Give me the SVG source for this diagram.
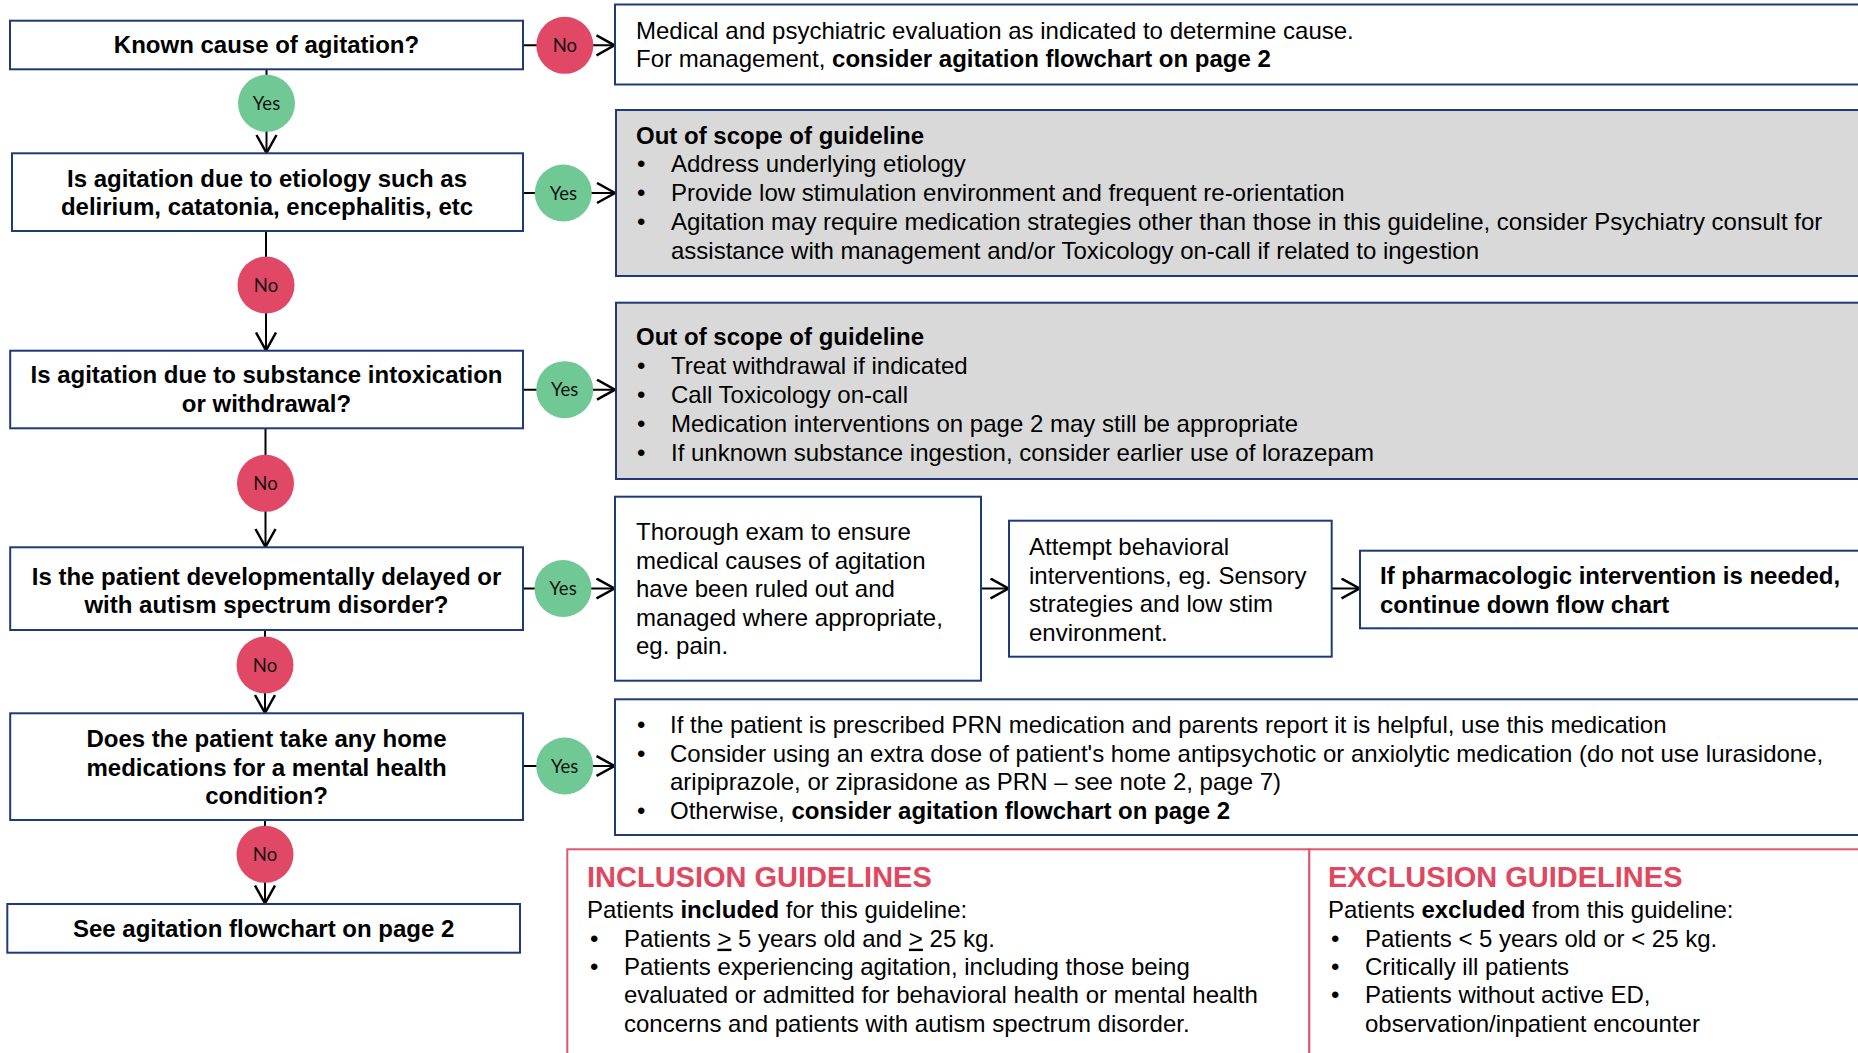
<svg xmlns="http://www.w3.org/2000/svg" width="1858" height="1053" viewBox="0 0 1858 1053">
<style>
.box{fill:#ffffff;stroke:#1f3a78;stroke-width:2}
.gbox{fill:#d9d9d9;stroke:#1f3a78;stroke-width:2}
.rbox{fill:#ffffff;stroke:#e05670;stroke-width:2}
.q{font-family:"Liberation Sans",Arial,sans-serif;font-size:24px;font-weight:bold;fill:#000;text-anchor:middle}
.t{font-family:"Liberation Sans",Arial,sans-serif;font-size:24px;fill:#000}
.b{font-weight:bold}
.h{font-family:"Liberation Sans",Arial,sans-serif;font-size:29px;font-weight:bold;fill:#e0485f}
.lbl{font-family:Lato,"Open Sans",sans-serif;font-size:18.5px;fill:#111;text-anchor:middle}
.no{fill:#e04866}
.yes{fill:#70c994}
.c{stroke:#000;stroke-width:2;fill:none;marker-end:url(#ah)}
</style>
<defs>
<marker id="ah" markerUnits="userSpaceOnUse" markerWidth="22" markerHeight="24" refX="19" refY="11" orient="auto">
<path d="M1,1 L19,11 L1,21" fill="none" stroke="#000" stroke-width="2.5"/>
</marker>
</defs>
<rect width="1858" height="1053" fill="#ffffff"/>

<g id="connectors">
<line class="c" x1="266.5" y1="69.5" x2="266.5" y2="153"/>
<line class="c" x1="266" y1="231" x2="266" y2="350.5"/>
<line class="c" x1="265.5" y1="428.5" x2="265.5" y2="547"/>
<line class="c" x1="265" y1="630" x2="265" y2="713"/>
<line class="c" x1="265" y1="820" x2="265" y2="903.5"/>
<line class="c" x1="523" y1="45.3" x2="614.5" y2="45.3"/>
<line class="c" x1="523" y1="193" x2="615" y2="193"/>
<line class="c" x1="523" y1="389.7" x2="615" y2="389.7"/>
<line class="c" x1="523" y1="588.5" x2="614.5" y2="588.5"/>
<line class="c" x1="523" y1="766" x2="614.5" y2="766"/>
<line class="c" x1="981" y1="588.5" x2="1008.5" y2="588.5"/>
<line class="c" x1="1331.7" y1="588.5" x2="1359.5" y2="588.5"/>
</g>

<g id="lbl-yes1"><circle class="yes" cx="266.5" cy="103.3" r="28.5"/><text class="lbl" x="266.5" y="110">Yes</text></g>
<g id="lbl-no2"><circle class="no" cx="266" cy="285" r="28.5"/><text class="lbl" x="266" y="291.7">No</text></g>
<g id="lbl-no3"><circle class="no" cx="265.5" cy="483.3" r="28.5"/><text class="lbl" x="265.5" y="490">No</text></g>
<g id="lbl-no4"><circle class="no" cx="265" cy="665" r="28.5"/><text class="lbl" x="265" y="671.7">No</text></g>
<g id="lbl-no5"><circle class="no" cx="265" cy="854.3" r="28.5"/><text class="lbl" x="265" y="861">No</text></g>
<g id="lbl-no1"><circle class="no" cx="564.8" cy="45.3" r="28.5"/><text class="lbl" x="564.8" y="52">No</text></g>
<g id="lbl-yes2"><circle class="yes" cx="563.3" cy="193" r="28.5"/><text class="lbl" x="563.3" y="199.7">Yes</text></g>
<g id="lbl-yes3"><circle class="yes" cx="564.7" cy="389.7" r="28.5"/><text class="lbl" x="564.7" y="396.4">Yes</text></g>
<g id="lbl-yes4"><circle class="yes" cx="563" cy="588.5" r="28.5"/><text class="lbl" x="563" y="595.2">Yes</text></g>
<g id="lbl-yes5"><circle class="yes" cx="564.7" cy="766" r="28.5"/><text class="lbl" x="564.7" y="772.7">Yes</text></g>

<g id="q1"><rect class="box" x="10" y="20.7" width="513" height="48.6"/><text class="q" x="266.5" y="53.3">Known cause of agitation?</text></g>
<g id="q2"><rect class="box" x="12" y="153.3" width="511" height="77.7"/><text class="q" x="267" y="186.7">Is agitation due to etiology such as</text><text class="q" x="267" y="215">delirium, catatonia, encephalitis, etc</text></g>
<g id="q3"><rect class="box" x="10.2" y="350.7" width="512.8" height="77.6"/><text class="q" x="266.5" y="383.3">Is agitation due to substance intoxication</text><text class="q" x="266.5" y="411.7">or withdrawal?</text></g>
<g id="q4"><rect class="box" x="10.2" y="547.3" width="512.8" height="82.7"/><text class="q" x="266.5" y="585">Is the patient developmentally delayed or</text><text class="q" x="266.5" y="613.3">with autism spectrum disorder?</text></g>
<g id="q5"><rect class="box" x="10.2" y="713.3" width="512.8" height="106.7"/><text class="q" x="266.5" y="746.7">Does the patient take any home</text><text class="q" x="266.5" y="775.5">medications for a mental health</text><text class="q" x="266.5" y="804.3">condition?</text></g>
<g id="end"><rect class="box" x="7.3" y="904" width="512.7" height="48.7"/><text class="q" x="263.7" y="937.3">See agitation flowchart on page 2</text></g>

<g id="r1"><rect class="box" x="615" y="4.5" width="1260" height="80"/>
<text class="t" x="636" y="38.5">Medical and psychiatric evaluation as indicated to determine cause.</text>
<text class="t" x="636" y="67">For management, <tspan class="b">consider agitation flowchart on page 2</tspan></text></g>

<g id="r2"><rect class="gbox" x="616" y="110" width="1260" height="166"/>
<text class="t b" x="636" y="143.5">Out of scope of guideline</text>
<text class="t" x="637" y="172.3">•</text><text class="t" x="671" y="172.3">Address underlying etiology</text>
<text class="t" x="637" y="201">•</text><text class="t" x="671" y="201">Provide low stimulation environment and frequent re-orientation</text>
<text class="t" x="637" y="229.8">•</text><text class="t" x="671" y="229.8">Agitation may require medication strategies other than those in this guideline, consider Psychiatry consult for</text>
<text class="t" x="671" y="258.5">assistance with management and/or Toxicology on-call if related to ingestion</text></g>

<g id="r3"><rect class="gbox" x="616" y="302.7" width="1260" height="176.3"/>
<text class="t b" x="636" y="345">Out of scope of guideline</text>
<text class="t" x="637" y="374">•</text><text class="t" x="671" y="374">Treat withdrawal if indicated</text>
<text class="t" x="637" y="403">•</text><text class="t" x="671" y="403">Call Toxicology on-call</text>
<text class="t" x="637" y="432">•</text><text class="t" x="671" y="432">Medication interventions on page 2 may still be appropriate</text>
<text class="t" x="637" y="461">•</text><text class="t" x="671" y="461">If unknown substance ingestion, consider earlier use of lorazepam</text></g>

<g id="r4a"><rect class="box" x="615" y="496.7" width="366" height="184"/>
<text class="t" x="636" y="540">Thorough exam to ensure</text>
<text class="t" x="636" y="568.5">medical causes of agitation</text>
<text class="t" x="636" y="597">have been ruled out and</text>
<text class="t" x="636" y="625.5">managed where appropriate,</text>
<text class="t" x="636" y="654">eg. pain.</text></g>

<g id="r4b"><rect class="box" x="1009" y="520.7" width="322.7" height="136"/>
<text class="t" x="1029" y="555">Attempt behavioral</text>
<text class="t" x="1029" y="583.5">interventions, eg. Sensory</text>
<text class="t" x="1029" y="612">strategies and low stim</text>
<text class="t" x="1029" y="640.5">environment.</text></g>

<g id="r4c"><rect class="box" x="1360" y="550.7" width="520" height="77.6"/>
<text class="t b" x="1380" y="584">If pharmacologic intervention is needed,</text>
<text class="t b" x="1380" y="612.5">continue down flow chart</text></g>

<g id="r5"><rect class="box" x="615" y="699.3" width="1260" height="135.7"/>
<text class="t" x="637" y="732.7">•</text><text class="t" x="670" y="732.7">If the patient is prescribed PRN medication and parents report it is helpful, use this medication</text>
<text class="t" x="637" y="761.5">•</text><text class="t" x="670" y="761.5">Consider using an extra dose of patient's home antipsychotic or anxiolytic medication (do not use lurasidone,</text>
<text class="t" x="670" y="790.3">aripiprazole, or ziprasidone as PRN – see note 2, page 7)</text>
<text class="t" x="637" y="819.3">•</text><text class="t" x="670" y="819.3">Otherwise, <tspan class="b">consider agitation flowchart on page 2</tspan></text></g>

<g id="inclusion"><rect class="rbox" x="567.3" y="849.3" width="742" height="230"/>
<text class="h" x="587" y="886.7">INCLUSION GUIDELINES</text>
<text class="t" x="587" y="917.7">Patients <tspan class="b">included</tspan> for this guideline:</text>
<text class="t" x="590" y="946.7">•</text><text class="t" x="624" y="946.7">Patients <tspan text-decoration="underline">&gt;</tspan> 5 years old and <tspan text-decoration="underline">&gt;</tspan> 25 kg.</text>
<text class="t" x="590" y="975">•</text><text class="t" x="624" y="975">Patients experiencing agitation, including those being</text>
<text class="t" x="624" y="1003.3">evaluated or admitted for behavioral health or mental health</text>
<text class="t" x="624" y="1031.7">concerns and patients with autism spectrum disorder.</text></g>

<g id="exclusion"><rect class="rbox" x="1309.3" y="849.3" width="580" height="230"/>
<text class="h" x="1328" y="886.7">EXCLUSION GUIDELINES</text>
<text class="t" x="1328" y="917.7">Patients <tspan class="b">excluded</tspan> from this guideline:</text>
<text class="t" x="1331" y="946.7">•</text><text class="t" x="1365" y="946.7">Patients &lt; 5 years old or &lt; 25 kg.</text>
<text class="t" x="1331" y="975">•</text><text class="t" x="1365" y="975">Critically ill patients</text>
<text class="t" x="1331" y="1003.3">•</text><text class="t" x="1365" y="1003.3">Patients without active ED,</text>
<text class="t" x="1365" y="1031.7">observation/inpatient encounter</text></g>
</svg>
